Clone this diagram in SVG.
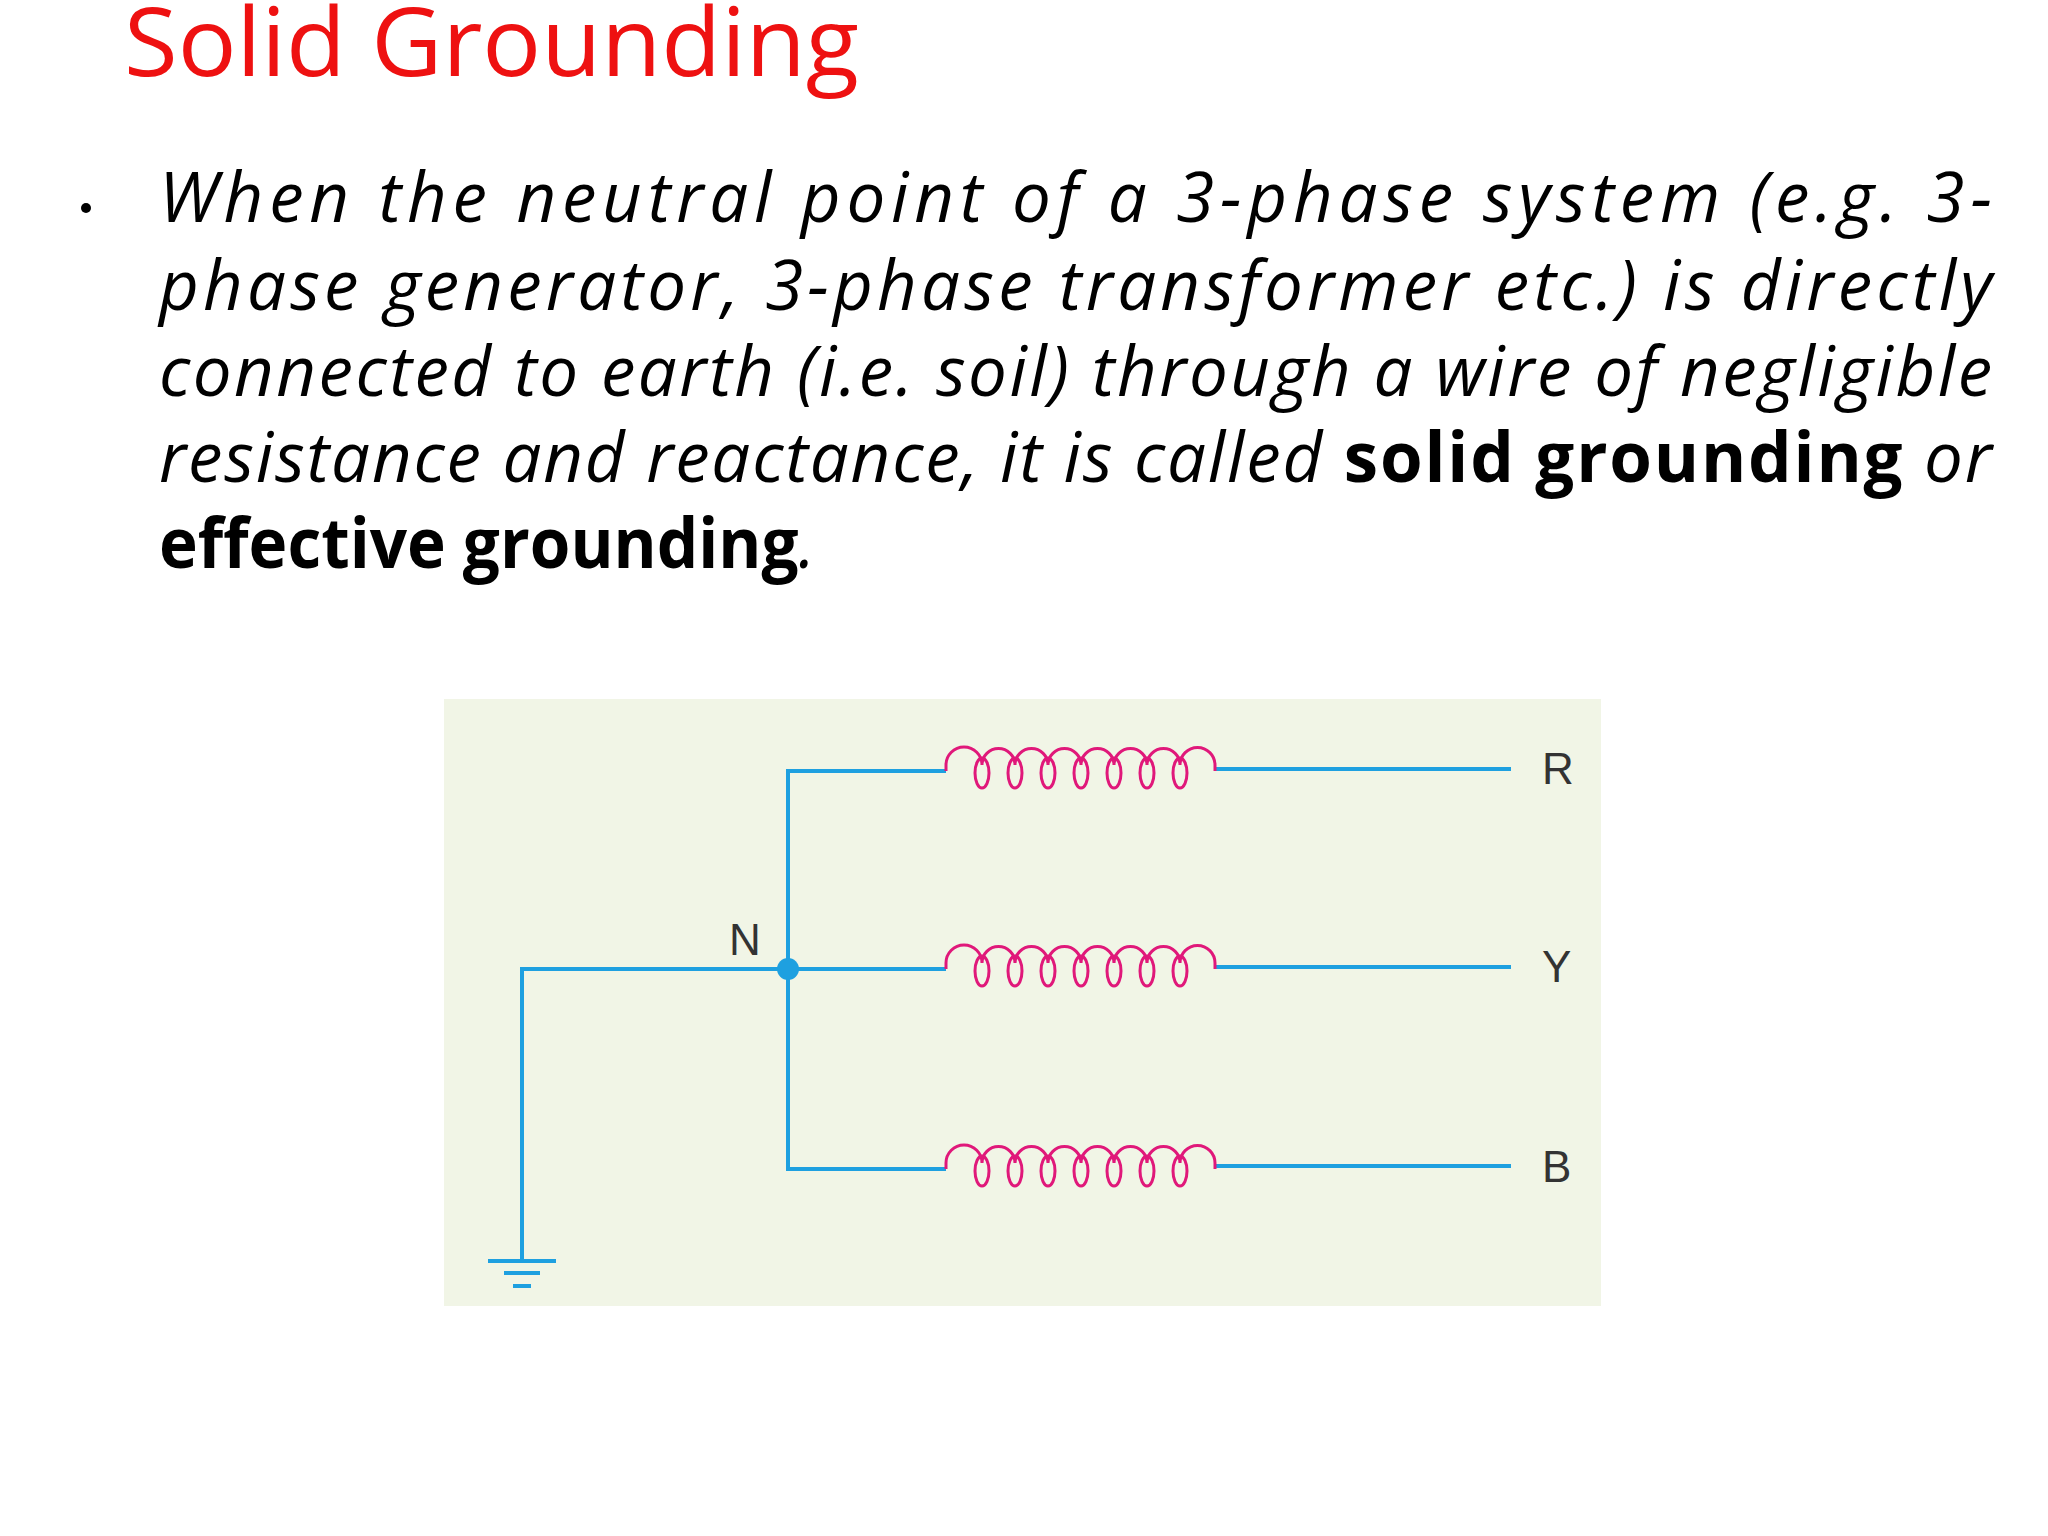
<svg xmlns="http://www.w3.org/2000/svg" width="2048" height="1536" viewBox="0 0 2048 1536">
<style>
.t{font-family:"Open Sans","Liberation Sans",sans-serif;font-style:italic;font-size:69px;fill:#000}
.b{font-weight:bold;font-style:normal}
.w{stroke:#1ea0e0;stroke-width:4;fill:none}
.c{stroke:#e0187a;stroke-width:3;fill:none}
.l{font-family:"Liberation Sans",Arial,sans-serif;font-size:44px;fill:#333}
</style>
<defs>
<g id="coil">
<path class="c" d="M0 0 V-6 A18 18 0 0 1 36 -6 A16.5 16.5 0 0 1 69 -6 A16.5 16.5 0 0 1 102 -6 A16.5 16.5 0 0 1 135 -6 A16.5 16.5 0 0 1 168 -6 A16.5 16.5 0 0 1 201 -6 A16.5 16.5 0 0 1 234 -6 A17.5 17.5 0 0 1 269 -6 V0"/>
<ellipse class="c" cx="36" cy="2" rx="7" ry="15"/>
<ellipse class="c" cx="69" cy="2" rx="7" ry="15"/>
<ellipse class="c" cx="102" cy="2" rx="7" ry="15"/>
<ellipse class="c" cx="135" cy="2" rx="7" ry="15"/>
<ellipse class="c" cx="168" cy="2" rx="7" ry="15"/>
<ellipse class="c" cx="201" cy="2" rx="7" ry="15"/>
<ellipse class="c" cx="234" cy="2" rx="7" ry="15"/>
</g>
</defs>
<rect width="2048" height="1536" fill="#fff"/>
<text x="124" y="76" font-family="'Open Sans','Liberation Sans',sans-serif" font-size="96" fill="#ee1111" textLength="735" lengthAdjust="spacingAndGlyphs">Solid Grounding</text>
<circle cx="86" cy="208" r="5" fill="#000"/>
<text class="t" x="159" y="222" textLength="1833" lengthAdjust="spacing">When the neutral point of a 3-phase system (e.g. 3-</text>
<text class="t" x="159" y="310" textLength="1833" lengthAdjust="spacing">phase generator, 3-phase transformer etc.) is directly</text>
<text class="t" x="159" y="396" textLength="1833" lengthAdjust="spacing">connected to earth (i.e. soil) through a wire of negligible</text>
<text class="t" x="159" y="482" textLength="1833" lengthAdjust="spacing">resistance and reactance, it is called <tspan class="b">solid grounding</tspan> or</text>
<text class="t" x="159" y="568" textLength="656" lengthAdjust="spacingAndGlyphs"><tspan class="b">effective grounding</tspan>.</text>
<rect x="444" y="699" width="1157" height="607" fill="#f1f5e6"/>
<g id="connectors">
<path class="w" d="M946 771 H788 V1169 H946"/>
<path class="w" d="M946 969 H522 V1260"/>
<path class="w" d="M1215 769 H1511 M1215 967 H1511 M1215 1166 H1511"/>
<path stroke="#1ea0e0" stroke-width="4" d="M488 1261 H556 M504 1273 H540 M513 1286 H531"/>
</g>
<g id="coilR"><use href="#coil" x="946" y="771"/></g>
<g id="coilY"><use href="#coil" x="946" y="969"/></g>
<g id="coilB"><use href="#coil" x="946" y="1169"/></g>
<g id="N"><circle cx="788" cy="969" r="11" fill="#1ea0e0"/><text class="l" x="729" y="955">N</text></g>
<g id="R"><text class="l" x="1542" y="784">R</text></g>
<g id="Y"><text class="l" x="1542" y="982">Y</text></g>
<g id="B"><text class="l" x="1542" y="1182">B</text></g>
</svg>
